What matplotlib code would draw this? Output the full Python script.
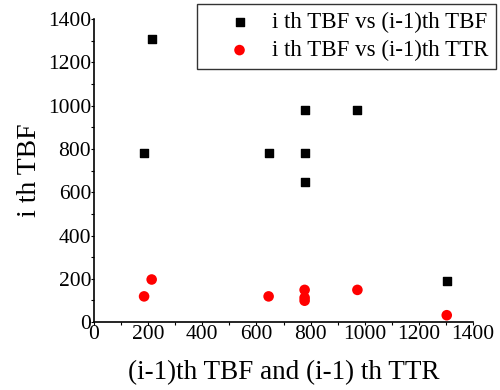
import matplotlib
matplotlib.use("Agg")
import matplotlib.pyplot as plt
from matplotlib.ticker import MultipleLocator

# i th TBF vs (i-1)th TBF
tbf_prev = [185, 213, 645, 778, 778, 778, 973, 1303]
tbf_cur = [782, 1308, 782, 978, 782, 648, 978, 189]

# i th TBF vs (i-1)th TTR
ttr_x = [185, 213, 645, 778, 778, 778, 973, 1303]
ttr_y = [119, 197, 119, 149, 113, 99, 149, 32]

plt.rcParams['font.family'] = ['Liberation Serif', 'DejaVu Serif']

fig = plt.figure(figsize=(5, 3.9), dpi=100)
ax = fig.add_axes([0.188, 0.174, 0.758, 0.777])

ax.scatter(tbf_prev, tbf_cur, marker='s', s=36, color='black',
           label='i th TBF vs (i-1)th TBF', zorder=3)
ax.scatter(ttr_x, ttr_y, marker='o', s=58, color='red', edgecolors='none',
           label='i th TBF vs (i-1)th TTR', zorder=3)

ax.set_xlim(0, 1400)
ax.set_ylim(0, 1400)
ax.xaxis.set_major_locator(MultipleLocator(200))
ax.yaxis.set_major_locator(MultipleLocator(200))
ax.xaxis.set_minor_locator(MultipleLocator(100))
ax.yaxis.set_minor_locator(MultipleLocator(100))
ax.tick_params(which='both', direction='out', length=2, width=0.8,
               labelsize=15.5, pad=0)

for side in ['top', 'right']:
    ax.spines[side].set_visible(False)
for side in ['left', 'bottom']:
    ax.spines[side].set_linewidth(1.2)

ax.set_xlabel('(i-1)th TBF and (i-1) th TTR', fontsize=19.5, labelpad=12)
ax.set_ylabel('i th TBF', fontsize=20, labelpad=4)

leg = ax.legend(loc='upper right', bbox_to_anchor=(0.992, 0.99),
                bbox_transform=fig.transFigure, fontsize=16.5,
                frameon=True, fancybox=False, borderpad=0.35,
                handlelength=3.0, handletextpad=-0.1, labelspacing=0.3,
                borderaxespad=0)
leg.get_frame().set_edgecolor('black')
leg.get_frame().set_linewidth(1.0)

fig.savefig('out.png', dpi=100)
